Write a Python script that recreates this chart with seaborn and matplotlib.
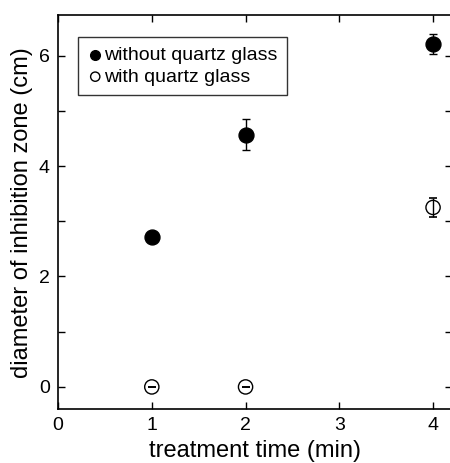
import numpy as np
import pandas as pd
import matplotlib
matplotlib.use('Agg')
import matplotlib.pyplot as plt
import seaborn as sns

# data
time_without = [1, 2, 4]
zone_without = [2.72, 4.57, 6.21]
err_without = [0.0, 0.28, 0.18]

time_with = [1, 2, 4]
zone_with = [0.0, 0.0, 3.25]
err_with = [0.0, 0.0, 0.17]

labels = ['without quartz glass', 'with quartz glass']

sns.set_style('ticks')
plt.rcParams['font.family'] = ['Liberation Sans', 'DejaVu Sans']
plt.rcParams['xtick.direction'] = 'in'
plt.rcParams['ytick.direction'] = 'in'
plt.rcParams['text.color'] = 'black'
plt.rcParams['axes.labelcolor'] = 'black'
plt.rcParams['xtick.color'] = 'black'
plt.rcParams['ytick.color'] = 'black'

df = pd.DataFrame({
    'time': time_without + time_with,
    'zone': zone_without + zone_with,
    'group': [labels[0]] * len(time_without) + [labels[1]] * len(time_with),
})

fig = plt.figure(figsize=(4.5, 4.63), dpi=100)
ax = fig.add_axes([0.129, 0.1166, 0.875, 0.8504])

# error bars first, markers on top
ax.errorbar(time_without, zone_without, yerr=err_without, fmt='none',
            ecolor='black', elinewidth=1.0, capsize=3, capthick=1.0, zorder=2)
ax.errorbar(time_with, zone_with, yerr=err_with, fmt='none',
            ecolor='black', elinewidth=1.0, capsize=3, capthick=1.2, zorder=4)

sub = df[df['group'] == labels[0]]
sns.scatterplot(data=sub, x='time', y='zone', ax=ax, marker='o', s=115,
                color='black', edgecolor='black', linewidth=1.0,
                label=labels[0], zorder=3)
sub = df[df['group'] == labels[1]]
sns.scatterplot(data=sub, x='time', y='zone', ax=ax, marker='o', s=105,
                facecolor='none', edgecolor='black', linewidth=1.0,
                label=labels[1], zorder=3)

ax.set_xlim(0, 4.2)
ax.set_ylim(-0.4, 6.73)
ax.set_xticks([0, 1, 2, 3, 4])
ax.set_yticks([0, 1, 2, 3, 4, 5, 6])
ax.set_yticklabels(['0', '', '2', '', '4', '', '6'])
ax.tick_params(axis='both', which='major', length=5, width=1.0,
               labelsize=14, top=True, right=True, pad=6,
               colors='black')

for s in ax.spines.values():
    s.set_linewidth(1.2)
    s.set_color('black')

ax.set_xlabel('treatment time (min)', fontsize=17, labelpad=4)
ax.set_ylabel('diameter of inhibition zone (cm)', fontsize=17, labelpad=4)

leg = ax.legend(loc='upper left', bbox_to_anchor=(0.050, 0.945),
                fontsize=14, frameon=True, fancybox=False,
                handletextpad=0.05, handlelength=0.8, borderpad=0.5,
                labelspacing=0.2, markerscale=0.65, borderaxespad=0)
leg.get_frame().set_edgecolor('black')
leg.get_frame().set_linewidth(1.0)

fig.savefig('out.png', dpi=100)
